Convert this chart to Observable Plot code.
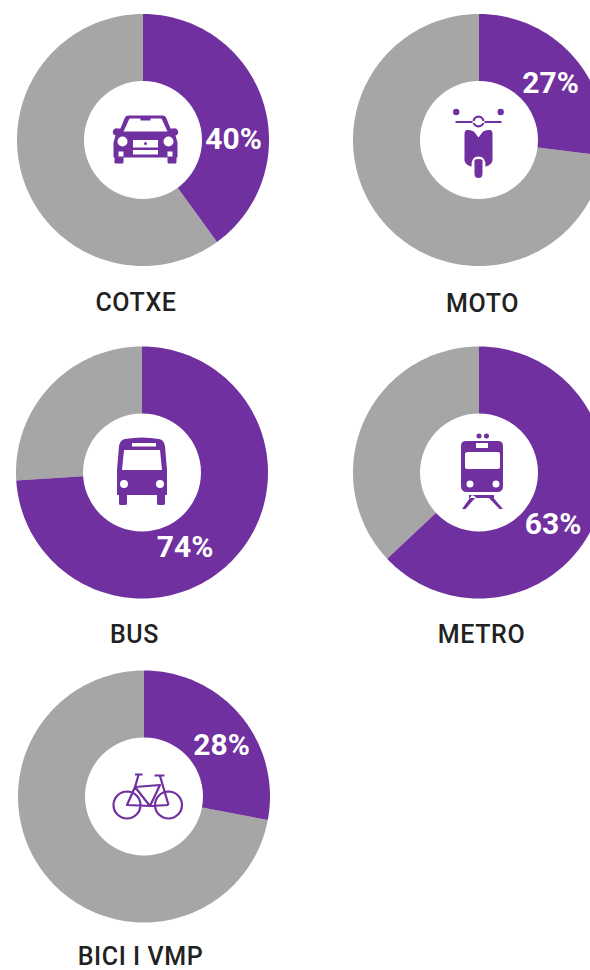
<!DOCTYPE html>
<html><head><meta charset="utf-8">
<script src="https://cdn.jsdelivr.net/npm/d3@7"></script>
<script src="https://cdn.jsdelivr.net/npm/@observablehq/plot@0.6"></script>
<style>html,body{margin:0;padding:0;background:#fff;overflow:hidden}svg{display:block}
.modeLabel text{letter-spacing:.6px}</style>
</head><body><div id="chart"></div>
<script>
// Data
const modes = ["COTXE", "MOTO", "BUS", "METRO", "BICI I VMP"];
const shares = [40, 27, 74, 63, 28];

// Layout (pixel space of the 590x970 picture)
const centerX = [142.5, 478.5, 141.5, 478.5, 143.5];
const centerY = [139.5, 139.5, 472, 472, 796];
const labelX = [135.5, 482, 134, 481, 140];
const labelY = [302, 303, 634, 634, 956];
const pctX = [233, 550, 184.5, 552.5, 221];
const pctY = [139, 83, 547, 524, 745];
const R = 126, r0 = 59;
const PURPLE = "#7030a0", GREY = "#a6a6a6", INK = "#222222";

// Wedge outline for a share of the circle, clockwise from 12 o'clock
function wedge(i, from, to, key) {
  const pts = [{x: centerX[i], y: centerY[i], key}];
  const n = Math.max(2, Math.ceil((to - from) * 3));
  for (let k = 0; k <= n; k++) {
    const a = 2 * Math.PI * (from + (to - from) * k / n) / 100;
    pts.push({x: centerX[i] + R * Math.sin(a), y: centerY[i] - R * Math.cos(a), key});
  }
  return pts;
}
const purplePts = shares.flatMap((s, i) => wedge(i, 0, s, "p" + i));
const greyPts = shares.flatMap((s, i) => wedge(i, s, 100, "g" + i));
const items = modes.map((m, i) => ({m, s: shares[i], i}));

// Icons: offsets from an icon origin, purple shapes then white details
const icons = [
  {at: [145.5, 139.5], purple:
    "M-17,-24H17Q20,-24 21,-21L25,-11H28A3.5,3.5 0 1 1 30,-4L32,3V18H31V23Q31,24 30,24H23Q22,24 22,23V18H-22V23Q-22,24 -23,24H-30Q-31,24 -31,23V18H-32V3L-30,-4A3.5,3.5 0 1 1 -28,-11H-25L-21,-21Q-20,-24 -17,-24Z",
   white: "M-16,-21H16L22,-8H-22Z M-28,2a5,5 0 1 0 10,0a5,5 0 1 0 -10,0Z M18,2a5,5 0 1 0 10,0a5,5 0 1 0 -10,0Z M-12.5,0.5H12.5V8H-12.5Z M-12.5,10.5H12.5V15H-12.5Z M-27,12h5v5h-5Z M22,12h5v5h-5Z",
   detail: "M-5,-22h10v3h-10Z M-1.5,4a1.5,1.5 0 1 0 3,0a1.5,1.5 0 1 0 -3,0Z"},
  {at: [478.5, 139.5], purple:
    "M-12,-9.5Q-5,-10 -3,-6L0,-2L3,-6Q5,-10 12,-9.5Q14,-9 14,-5V18Q15,23 10,26L5,28H-5L-10,26Q-15,23 -14,18V-5Q-14,-9 -12,-9.5Z M-25.5,-27.5a3.2,3.2 0 1 0 6.4,0a3.2,3.2 0 1 0 -6.4,0Z M19,-27.5a3.2,3.2 0 1 0 6.4,0a3.2,3.2 0 1 0 -6.4,0Z M-23,-18.5H23V-16.5H-23Z M-6,-18a6,6 0 1 0 12,0a6,6 0 1 0 -12,0Z",
   white: "M-3.8,-18a3.8,3.8 0 1 0 7.6,0a3.8,3.8 0 1 0 -7.6,0Z M-7,26Q-7,17 0,17Q7,17 7,26V32H-7Z",
   detail: "M-4,21Q-4,19.5 0,19.5Q4,19.5 4,21V34Q4,38.5 0,38.5Q-4,38.5 -4,34Z"},
  {at: [142, 472], purple:
    "M-17,-33Q0,-36 17,-33Q22,-32 23,-26L25,-2V23H23V32Q23,33 21,33H17Q15,33 15,32V23H-15V32Q-15,33 -17,33H-21Q-23,33 -23,32V23H-25V-2L-23,-26Q-22,-32 -17,-33Z",
   white: "M-18,-22H18L20,-2H-20Z M-10,-29H14V-25.5H-10Z M-22,12a4,4 0 1 0 8,0a4,4 0 1 0 -8,0Z M14,12a4,4 0 1 0 8,0a4,4 0 1 0 -8,0Z"},
  {at: [482, 472], purple:
    "M-16,-31H16Q21,-31 21,-26V14Q21,20 15,20H-15Q-21,20 -21,14V-26Q-21,-31 -16,-31Z M-5.5,-36a2.5,2.5 0 1 0 5,0a2.5,2.5 0 1 0 -5,0Z M2,-36a2.5,2.5 0 1 0 5,0a2.5,2.5 0 1 0 -5,0Z M-13,23H12V26H-13Z M-10,23L-20,37H-16.5L-6,25Z M9,23L21,37H17.5L6,25Z",
   white: "M-14,-20H16Q18,-20 18,-18V-5Q18,-3 16,-3H-14Q-17,-3 -17,-5V-18Q-17,-20 -14,-20Z M-6,-29H6V-24H-6Z M-15.5,12a3.5,3.5 0 1 0 7,0a3.5,3.5 0 1 0 -7,0Z M10.5,12a3.5,3.5 0 1 0 7,0a3.5,3.5 0 1 0 -7,0Z"}
];
const bike = {at: [147.5, 805],
  d: "M-20.5,-13.5a13.5,13.5 0 1 0 0.01,27 M-20.5,-13.5a13.5,13.5 0 1 1 -0.01,27 M21,-13.5a13.5,13.5 0 1 0 0.01,27 M21,-13.5a13.5,13.5 0 1 1 -0.01,27 M-20.5,0L-12.5,-18L12.5,-20L2.5,1Z M-9,-30L-12.5,-18L2.5,1L21,0 M12.5,-29L21,0 M-12.5,-30.5H-5 M7,-29.5H17"};

// Icons drawn as a custom mark that goes through the same x and y scales
function iconMark(index, {x, y}) {
  const g = d3.create("svg:g");
  for (const ic of icons) {
    const t = g.append("g").attr("transform", `translate(${x(ic.at[0])},${y(ic.at[1])})`);
    t.append("path").attr("d", ic.purple).attr("fill", PURPLE);
    t.append("path").attr("d", ic.white).attr("fill", "#fff");
    if (ic.detail) t.append("path").attr("d", ic.detail).attr("fill", PURPLE);
  }
  g.append("path")
    .attr("transform", `translate(${x(bike.at[0])},${y(bike.at[1])})`)
    .attr("d", bike.d).attr("fill", "none").attr("stroke", PURPLE)
    .attr("stroke-width", 2.2).attr("stroke-linejoin", "round");
  return g.node();
}

const chart = Plot.plot({
  width: 590, height: 970,
  margin: 0,
  style: {background: "#fff", fontFamily: "Roboto, sans-serif"},
  x: {domain: [0, 590], range: [0, 590], axis: null},
  y: {domain: [0, 970], range: [0, 970], axis: null},
  marks: [
    Plot.line(greyPts, {x: "x", y: "y", z: "key", fill: GREY, stroke: "none", curve: "linear-closed"}),
    Plot.line(purplePts, {x: "x", y: "y", z: "key", fill: PURPLE, stroke: "none", curve: "linear-closed"}),
    Plot.dot(items, {x: d => centerX[d.i], y: d => centerY[d.i], r: r0, fill: "#fff", stroke: "none"}),
    iconMark,
    Plot.text(items, {x: d => pctX[d.i], y: d => pctY[d.i], text: d => d.s + "%", fill: "#fff",
      fontSize: 30, fontWeight: 700, fontFamily: "Roboto, sans-serif"}),
    Plot.text(items, {x: d => labelX[d.i], y: d => labelY[d.i], text: "m", fill: INK, className: "modeLabel",
      fontSize: 25, fontWeight: 500, fontFamily: "Roboto, sans-serif"})
  ]
});
document.getElementById("chart").append(chart);
</script>
</body></html>
